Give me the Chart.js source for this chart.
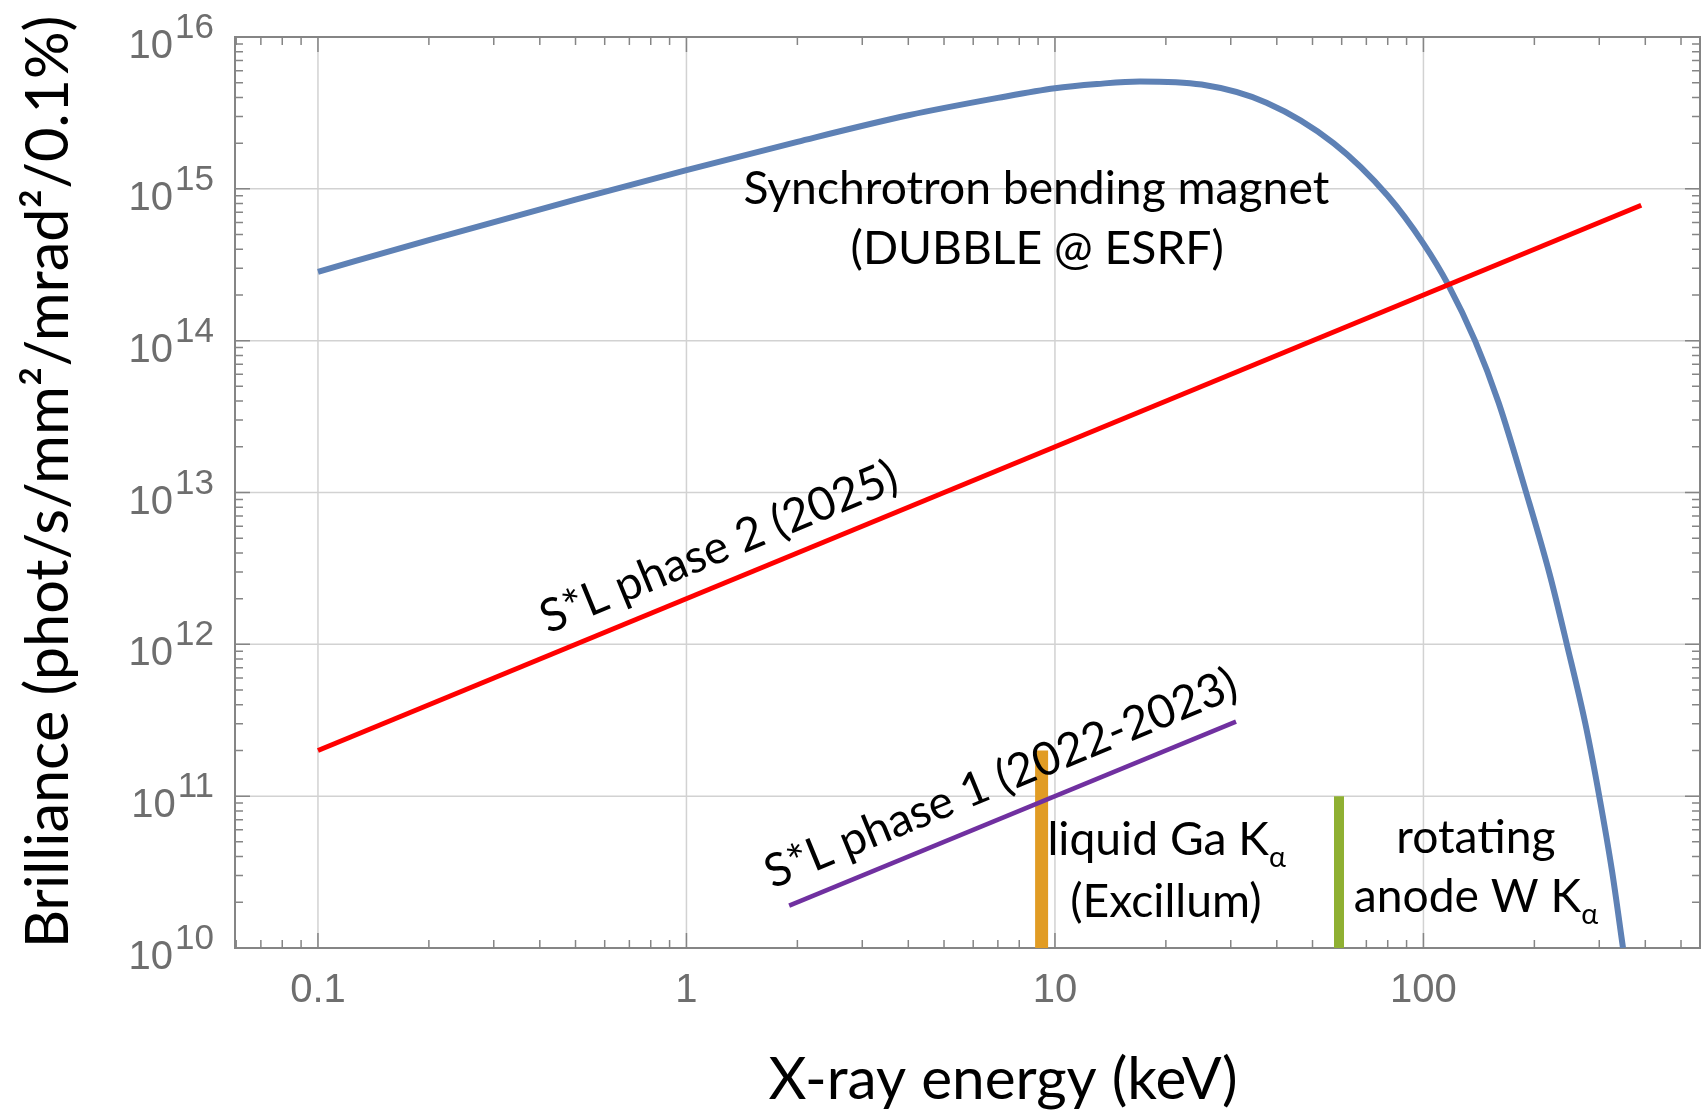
<!DOCTYPE html>
<html>
<head>
<meta charset="utf-8">
<script src="https://cdn.jsdelivr.net/npm/chart.js@4.4.0/dist/chart.umd.min.js"></script>
<style>
body { margin: 0; background: #fff; }
canvas { display: block; }
</style>
</head>
<body>
<canvas id="chart" width="1701" height="1112"></canvas>
<script>
// values: energy in keV, brilliance in phot/s/mm²/mrad²/0.1%
const bendingEnergy = [0.1, 0.2, 0.5, 1, 2, 4, 7, 10, 13, 17, 25, 37.5, 57, 80, 100, 116.6, 138, 160, 190, 220, 245, 275, 300, 325, 348];
const bendingBrilliance = [2.84e14, 4.6e14, 8.5e14, 1.33e15, 2.04e15, 3.05e15, 3.97e15, 4.6e15, 4.9e15, 5.1e15, 4.86e15, 3.69e15, 2.0e15, 9.0e14, 4.36e14, 2.35e14, 1.0e14, 3.9e13, 1.0e13, 2.9e12, 1.0e12, 3.0e11, 1.0e11, 3.2e10, 1.0e10];
const phase2Energy = [0.1, 390];
const phase2Brilliance = [2e11, 7.8e14];
const phase1Energy = [1.9, 31];
const phase1Brilliance = [1.9e10, 3.1e11];
const galliumEnergy = [9.2, 9.2];
const galliumBrilliance = [1e10, 2e11];
const tungstenEnergy = [59, 59];
const tungstenBrilliance = [1e10, 1e11];
const xTickValues = [0.1, 1, 10, 100];
const xTickLabels = ["0.1", "1", "10", "100"];
const yTickExponents = [10, 11, 12, 13, 14, 15, 16];

const toPoints = (xs, ys) => xs.map((v, i) => ({ x: v, y: ys[i] }));

const TEXT_FONT = "Lato";
const TICK_FONT = '"Liberation Sans"';

function fitSize(ctx, text, width, family) {
    ctx.font = `100px ${family}`;
    return 100 * width / ctx.measureText(text).width;
}

// draws text made of normal and subscript parts, centred on (cx, cy)
function drawRich(ctx, parts, cx, cy, size) {
    let total = 0;
    const widths = parts.map(p => {
        ctx.font = `${p.sub ? size * 0.62 : size}px ${TEXT_FONT}`;
        const w = ctx.measureText(p.t).width;
        total += w;
        return w;
    });
    let px = cx - total / 2;
    ctx.textAlign = "left";
    ctx.textBaseline = "alphabetic";
    parts.forEach((p, i) => {
        ctx.font = `${p.sub ? size * 0.62 : size}px ${TEXT_FONT}`;
        ctx.fillText(p.t, px, cy + size * 0.32 + (p.sub ? size * 0.26 : 0));
        px += widths[i];
    });
}

const framePlugin = {
    id: "frame",
    beforeDatasetsDraw(chart) {
        const { ctx, chartArea: a, scales: { x, y } } = chart;
        ctx.save();

        ctx.strokeStyle = "#d2d2d2";
        ctx.lineWidth = 1.5;
        ctx.beginPath();
        xTickValues.forEach(v => {
            const px = x.getPixelForValue(v);
            ctx.moveTo(px, a.top);
            ctx.lineTo(px, a.bottom);
        });
        yTickExponents.forEach(e => {
            const py = y.getPixelForValue(10 ** e);
            ctx.moveTo(a.left, py);
            ctx.lineTo(a.right, py);
        });
        ctx.stroke();

        ctx.strokeStyle = "#858585";
        ctx.lineWidth = 2;
        ctx.strokeRect(a.left, a.top, a.right - a.left, a.bottom - a.top);

        ctx.lineWidth = 1.5;
        ctx.beginPath();
        for (let e = -2; e <= 3; e++) {
            for (let m = 1; m <= 9; m++) {
                const v = m * 10 ** e;
                if (v < x.min || v > x.max) continue;
                const px = x.getPixelForValue(v);
                const len = m === 1 ? 15 : 8;
                ctx.moveTo(px, a.bottom);
                ctx.lineTo(px, a.bottom - len);
                ctx.moveTo(px, a.top);
                ctx.lineTo(px, a.top + len);
            }
        }
        for (let e = 10; e <= 16; e++) {
            for (let m = 1; m <= 9; m++) {
                const v = m * 10 ** e;
                if (v < y.min || v > y.max) continue;
                const py = y.getPixelForValue(v);
                const len = m === 1 ? 15 : 8;
                ctx.moveTo(a.left, py);
                ctx.lineTo(a.left + len, py);
                ctx.moveTo(a.right, py);
                ctx.lineTo(a.right - len, py);
            }
        }
        ctx.stroke();
        ctx.restore();
    },
    afterDatasetsDraw(chart) {
        const { ctx, chartArea: a, scales: { x, y } } = chart;
        ctx.save();

        // tick labels
        ctx.fillStyle = "#6e6e6e";
        ctx.textBaseline = "alphabetic";
        yTickExponents.forEach(e => {
            const py = y.getPixelForValue(10 ** e);
            const sup = String(e);
            ctx.font = `35px ${TICK_FONT}`;
            ctx.textAlign = "right";
            const ws = ctx.measureText(sup).width;
            ctx.fillText(sup, a.left - 21, py + 1);
            ctx.font = `40px ${TICK_FONT}`;
            ctx.fillText("10", a.left - 21 - ws - 2, py + 21);
        });
        ctx.font = `40px ${TICK_FONT}`;
        ctx.textAlign = "center";
        xTickValues.forEach((v, i) => {
            ctx.fillText(xTickLabels[i], x.getPixelForValue(v), a.bottom + 54);
        });

        // axis titles
        ctx.fillStyle = "#000";
        const yTitle = "Brilliance (phot/s/mm²/mrad²/0.1%)";
        const yTitleSize = fitSize(ctx, yTitle, 933, TEXT_FONT);
        ctx.save();
        ctx.translate(49, 482);
        ctx.rotate(-Math.PI / 2);
        ctx.font = `${yTitleSize}px ${TEXT_FONT}`;
        ctx.textAlign = "center";
        ctx.textBaseline = "middle";
        ctx.fillText(yTitle, 0, 0);
        ctx.restore();

        const xTitle = "X-ray energy (keV)";
        const xTitleSize = fitSize(ctx, xTitle, 469, TEXT_FONT);
        ctx.font = `${xTitleSize}px ${TEXT_FONT}`;
        ctx.textAlign = "center";
        ctx.textBaseline = "middle";
        ctx.fillText(xTitle, 1003, 1080);

        // curve annotations
        const size = fitSize(ctx, "Synchrotron bending magnet", 586, TEXT_FONT);
        const at = (ex, by) => [x.getPixelForValue(ex), y.getPixelForValue(by)];

        let p = at(8.9, 1.0e15);
        drawRich(ctx, [{ t: "Synchrotron bending magnet" }], p[0], p[1], size);
        p = at(8.95, 4.0e14);
        drawRich(ctx, [{ t: "(DUBBLE @ ESRF)" }], p[0], p[1], size);

        const slope = (xs, ys) => {
            const [x0, y0] = at(xs[0], ys[0]);
            const [x1, y1] = at(xs[1], ys[1]);
            return Math.atan2(y1 - y0, x1 - x0);
        };

        p = at(1.225, 4.34e12);
        ctx.save();
        ctx.translate(p[0], p[1]);
        ctx.rotate(slope(phase2Energy, phase2Brilliance));
        drawRich(ctx, [{ t: "S*L phase 2 (2025)" }], 0, 0, size);
        ctx.restore();

        p = at(7.14, 1.3e11);
        ctx.save();
        ctx.translate(p[0], p[1]);
        ctx.rotate(slope(phase1Energy, phase1Brilliance));
        drawRich(ctx, [{ t: "S*L phase 1 (2022-2023)" }], 0, 0, size);
        ctx.restore();

        p = at(20.1, 5.1e10);
        drawRich(ctx, [{ t: "liquid Ga K" }, { t: "α", sub: true }], p[0], p[1], size);
        p = at(20.0, 2.0e10);
        drawRich(ctx, [{ t: "(Excillum)" }], p[0], p[1], size);
        p = at(138.8, 5.3e10);
        drawRich(ctx, [{ t: "rotating" }], p[0], p[1], size);
        p = at(138.8, 2.15e10);
        drawRich(ctx, [{ t: "anode W K" }, { t: "α", sub: true }], p[0], p[1], size);

        ctx.restore();
    }
};

new Chart(document.getElementById("chart"), {
    type: "line",
    data: {
        datasets: [
            {
                label: "S*L phase 1",
                data: toPoints(phase1Energy, phase1Brilliance),
                borderColor: "rgb(112, 48, 160)",
                borderWidth: 4.5,
                order: 0
            },
            {
                label: "S*L phase 2",
                data: toPoints(phase2Energy, phase2Brilliance),
                borderColor: "rgb(255, 0, 0)",
                borderWidth: 5,
                order: 1
            },
            {
                label: "Bending magnet",
                data: toPoints(bendingEnergy, bendingBrilliance),
                borderColor: "rgb(94, 129, 181)",
                borderWidth: 6,
                cubicInterpolationMode: "monotone",
                order: 2
            },
            {
                label: "Ga Kα",
                data: toPoints(galliumEnergy, galliumBrilliance),
                borderColor: "rgb(225, 156, 36)",
                borderWidth: 13,
                order: 3
            },
            {
                label: "W Kα",
                data: toPoints(tungstenEnergy, tungstenBrilliance),
                borderColor: "rgb(143, 176, 50)",
                borderWidth: 10,
                order: 4
            }
        ]
    },
    options: {
        responsive: false,
        animation: false,
        elements: {
            point: { radius: 0 },
            line: { fill: false, borderCapStyle: "butt" }
        },
        layout: {
            padding: { left: 235, right: 1, top: 37, bottom: 164 }
        },
        plugins: {
            legend: { display: false },
            tooltip: { enabled: false }
        },
        scales: {
            x: { type: "logarithmic", min: 0.05955, max: 563, display: false },
            y: { type: "logarithmic", min: 1e10, max: 1e16, display: false }
        }
    },
    plugins: [framePlugin]
});
</script>
</body>
</html>
